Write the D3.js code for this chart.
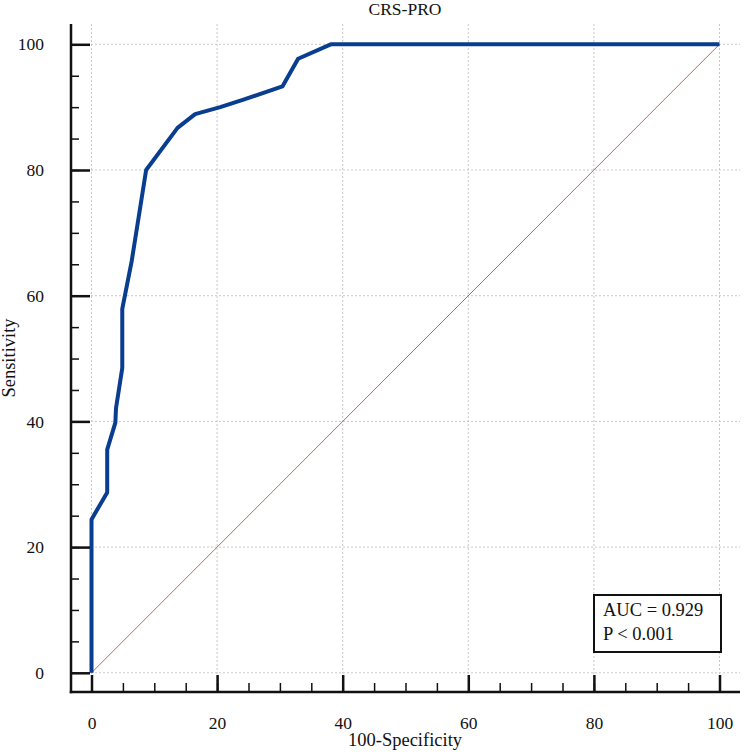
<!DOCTYPE html>
<html>
<head>
<meta charset="utf-8">
<script src="https://cdn.jsdelivr.net/npm/d3@7"></script>
<style>
  body { margin: 0; background: #fff; }
  text { font-family: "Liberation Serif", "Times New Roman", serif; fill: #111; }
</style>
</head>
<body>
<div id="chart"></div>
<script>
// ROC curve points (100-Specificity, Sensitivity)
var fpr = [0, 0, 2.5, 2.5, 3.8, 3.9, 4.9, 4.9, 6.4, 8.7, 13.7, 16.5, 20.5, 24.2, 30.4, 32.9, 38.1, 100];
var tpr = [0, 24.4, 28.7, 35.5, 39.8, 42.1, 48.5, 57.9, 65.5, 80.0, 86.7, 88.9, 90.0, 91.2, 93.3, 97.7, 100, 100];
var diagonal = [0, 100];
var majorTicks = [0, 20, 40, 60, 80, 100];
var minorTicks = d3.range(0, 101, 5);
var title = "CRS-PRO";
var xTitle = "100-Specificity";
var yTitle = "Sensitivity";
var legendLines = ["AUC = 0.929", "P < 0.001"];

var W = 744, H = 752;
var axisX = 71, axisY = 692, axisTop = 24, axisRight = 740;

var x = d3.scaleLinear().domain([0, 100]).range([91.5, 719.5]);
var y = d3.scaleLinear().domain([0, 100]).range([672.8, 44.3]);

var svg = d3.select("#chart").append("svg")
    .attr("width", W)
    .attr("height", H);

// grid
var grid = svg.append("g").attr("class", "grid")
    .attr("stroke", "#c8c8c8")
    .attr("stroke-width", 1)
    .attr("stroke-dasharray", "2,2");
grid.selectAll(".gx").data(majorTicks).enter().append("line")
    .attr("x1", function(d) { return x(d); })
    .attr("x2", function(d) { return x(d); })
    .attr("y1", axisTop)
    .attr("y2", axisY);
grid.selectAll(".gy").data(majorTicks).enter().append("line")
    .attr("x1", axisX)
    .attr("x2", axisRight)
    .attr("y1", function(d) { return y(d); })
    .attr("y2", function(d) { return y(d); });

// diagonal reference line
svg.append("line")
    .attr("x1", x(diagonal[0])).attr("y1", y(diagonal[0]))
    .attr("x2", x(diagonal[1])).attr("y2", y(diagonal[1]))
    .attr("stroke", "#c2645c")
    .attr("stroke-width", 1);

// ROC curve
var pts = fpr.map(function(d, i) { return [d, tpr[i]]; });
var line = d3.line()
    .x(function(d) { return x(d[0]); })
    .y(function(d) { return y(d[1]); });
svg.append("path")
    .datum(pts)
    .attr("fill", "none")
    .attr("stroke", "#083d8f")
    .attr("stroke-width", 4)
    .attr("stroke-linejoin", "round")
    .attr("d", line);

// axes
var yMinor = d3.axisLeft(y).tickValues(minorTicks).tickFormat("").tickSizeInner(-8).tickSizeOuter(0);
var yMajor = d3.axisLeft(y).tickValues(majorTicks).tickSizeInner(-19).tickSizeOuter(0).tickPadding(27);
var xMinor = d3.axisBottom(x).tickValues(minorTicks).tickFormat("").tickSizeInner(-9).tickSizeOuter(0);
var xMajor = d3.axisBottom(x).tickValues(majorTicks).tickSizeInner(-17).tickSizeOuter(0).tickPadding(25);

function styleAxis(g, w) {
    g.select(".domain").remove();
    g.selectAll(".tick line").attr("stroke", "#111").attr("stroke-width", w);
    g.selectAll(".tick text")
        .style("font-family", "'Liberation Serif', serif")
        .style("font-size", "17.5px")
        .attr("fill", "#111");
}

svg.append("g").attr("transform", "translate(" + axisX + ",0)").call(yMinor).call(styleAxis, 1.5);
svg.append("g").attr("transform", "translate(" + axisX + ",0)").call(yMajor).call(styleAxis, 2.5);
svg.append("g").attr("transform", "translate(0," + axisY + ")").call(xMinor).call(styleAxis, 1.5);
svg.append("g").attr("transform", "translate(0," + axisY + ")").call(xMajor).call(styleAxis, 2.5);

// axis lines
svg.append("line")
    .attr("x1", axisX).attr("x2", axisX)
    .attr("y1", axisTop).attr("y2", axisY + 1.25)
    .attr("stroke", "#111").attr("stroke-width", 2.5);
svg.append("line")
    .attr("x1", axisX - 1.25).attr("x2", axisRight)
    .attr("y1", axisY).attr("y2", axisY)
    .attr("stroke", "#111").attr("stroke-width", 2.5);

// titles
svg.append("text")
    .attr("x", 405).attr("y", 15)
    .attr("text-anchor", "middle")
    .style("font-size", "17.5px")
    .text(title);
svg.append("text")
    .attr("x", 405).attr("y", 746)
    .attr("text-anchor", "middle")
    .style("font-size", "18.5px")
    .text(xTitle);
svg.append("text")
    .attr("transform", "translate(15,358) rotate(-90)")
    .attr("text-anchor", "middle")
    .style("font-size", "18.5px")
    .text(yTitle);

// legend box
var legend = svg.append("g").attr("transform", "translate(594,595)");
legend.append("rect")
    .attr("width", 127).attr("height", 57)
    .attr("fill", "#fff")
    .attr("stroke", "#111")
    .attr("stroke-width", 2);
legend.selectAll("text").data(legendLines).enter().append("text")
    .attr("x", 9)
    .attr("y", function(d, i) { return 21 + i * 24; })
    .style("font-size", "18.5px")
    .text(function(d) { return d; });
</script>
</body>
</html>
